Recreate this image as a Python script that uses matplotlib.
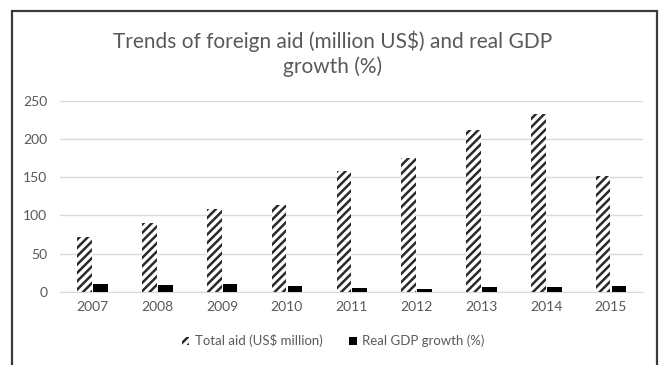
import numpy as np
import matplotlib
matplotlib.use("Agg")
import matplotlib.pyplot as plt
from matplotlib.patches import Patch, Rectangle

plt.rcParams['font.family'] = ['Lato', 'DejaVu Sans']
plt.rcParams['hatch.linewidth'] = 1.8

# data
years = ['2007', '2008', '2009', '2010', '2011', '2012', '2013', '2014', '2015']
total_aid = [72, 90, 109, 114, 158, 175, 212, 233, 152]
gdp_growth = [10.5, 9, 10.5, 7.5, 5.5, 3, 6, 6, 7.5]

text_grey = '#595959'
grid_grey = '#d9d9d9'

fig = plt.figure(figsize=(6.66, 3.65), dpi=100)
ax = fig.add_axes([0.09, 0.2008, 0.876, 0.522])

x = np.arange(len(years))
width = 0.225
ax.bar(x - 0.12, total_aid, width, color='white', edgecolor='#2a2a2a',
       linewidth=0, hatch='////', zorder=3)
ax.bar(x + 0.125, gdp_growth, width, color='black', zorder=3)

ax.set_xlim(-0.5, len(years) - 0.5)
ax.set_ylim(0, 250)
ax.set_yticks([0, 50, 100, 150, 200, 250])
ax.set_xticks(x)
ax.set_xticklabels(years)
ax.yaxis.grid(True, color=grid_grey, linewidth=1, zorder=0)
ax.tick_params(axis='both', length=0, colors=text_grey, labelsize=10)
ax.tick_params(axis='y', pad=9)
ax.tick_params(axis='x', pad=7)
for side in ['top', 'right', 'left']:
    ax.spines[side].set_visible(False)
ax.spines['bottom'].set_color(grid_grey)

fig.text(0.5, 0.852, 'Trends of foreign aid (million US$) and real GDP\ngrowth (%)',
         ha='center', va='center', fontsize=15, color=text_grey, linespacing=1.25)

handles = [Patch(facecolor='white', edgecolor='#2a2a2a', linewidth=0, hatch='////',
                 label='Total aid (US$ million)'),
           Patch(facecolor='black', label='Real GDP growth (%)')]
fig.legend(handles=handles, loc='center', bbox_to_anchor=(0.5, 0.066), ncol=2,
           frameon=False, fontsize=9.5, labelcolor=text_grey, handlelength=0.6,
           handleheight=0.6, handletextpad=0.4, columnspacing=2.0)

# chart border (cut off at the bottom in the reference)
fig.patches.append(Rectangle((12 / 666, -0.05), 645 / 666, 1.02, transform=fig.transFigure,
                             fill=False, edgecolor='#3a3a3a', linewidth=1.6))

fig.savefig('out.png', dpi=100)
